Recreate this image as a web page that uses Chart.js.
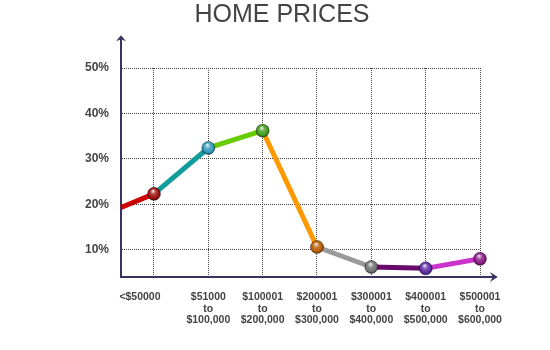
<!DOCTYPE html>
<html><head><meta charset="utf-8">
<script src="https://cdn.jsdelivr.net/npm/chart.js@4/dist/chart.umd.min.js"></script>
<style>html,body{margin:0;padding:0;background:#fff}#wrap{width:550px;height:350px}</style>
</head><body><div id="wrap"><canvas id="c" width="550" height="350"></canvas></div>
<script>
// ---- data ----
const chartTitle = 'HOME PRICES';
const categories = [
  ['<$50000'],
  ['$51000', 'to', '$100,000'],
  ['$100001', 'to', '$200,000'],
  ['$200001', 'to', '$300,000'],
  ['$300001', 'to', '$400,000'],
  ['$400001', 'to', '$500,000'],
  ['$500001', 'to', '$600,000']
];
const values = [22.3, 32.4, 36.2, 10.6, 6.2, 5.9, 8.0];   // percent
const startValue = 19.3;                                   // where the line enters at the y axis
const yTickValues = [10, 20, 30, 40, 50];

// ---- styling ----
const segmentColors = ['#cc0000', '#129c9c', '#66cc00', '#ff9900', '#9a9a9a', '#680a6a', '#cc33cc'];
const pointColors = ['#9a0c0c', '#2f97b8', '#3f9a1a', '#b85c00', '#707070', '#5a2aa0', '#8a1a82'];
const axisColor = '#3b335f';
const X_MIN = 0.393, X_MAX = 7, Y_MIN = 4, Y_MAX = 50, Y_AXIS_TOP = 57, X_AXIS_END = 7.31;
const firstLabelPos = 0.742;

const points = [{x: X_MIN, y: startValue}].concat(values.map((v, i) => ({x: i + 1, y: v})));

function shade(hex, f) {
  const n = parseInt(hex.slice(1), 16);
  let r = (n >> 16) & 255, g = (n >> 8) & 255, b = n & 255;
  if (f >= 0) { r += (255 - r) * f; g += (255 - g) * f; b += (255 - b) * f; }
  else { r *= 1 + f; g *= 1 + f; b *= 1 + f; }
  return 'rgb(' + Math.round(r) + ',' + Math.round(g) + ',' + Math.round(b) + ')';
}
function sphere(ctx) {
  const i = ctx.dataIndex;
  if (i === 0) return 'rgba(0,0,0,0)';
  const base = pointColors[i - 1];
  const chart = ctx.chart, xs = chart.scales.x, ys = chart.scales.y;
  if (!xs || !ys || !ctx.parsed) return base;
  const px = xs.getPixelForValue(ctx.parsed.x), py = ys.getPixelForValue(ctx.parsed.y);
  if (!isFinite(px) || !isFinite(py)) return base;
  const g = chart.ctx.createRadialGradient(px - 1, py - 3, 0.5, px, py, 7);
  g.addColorStop(0, shade(base, 0.8));
  g.addColorStop(0.35, shade(base, 0.2));
  g.addColorStop(0.75, base);
  g.addColorStop(1, shade(base, -0.55));
  return g;
}

const arrows = {
  id: 'arrows',
  afterDraw(chart) {
    const c = chart.ctx, a = chart.chartArea;
    const xs = chart.scales.x, ys = chart.scales.y;
    const yTop = ys.getPixelForValue(Y_AXIS_TOP);
    const xEnd = xs.getPixelForValue(X_AXIS_END);
    c.save();
    c.strokeStyle = axisColor; c.fillStyle = axisColor; c.lineWidth = 2;
    c.beginPath();
    c.moveTo(a.left, a.top + 1); c.lineTo(a.left, yTop + 2);
    c.moveTo(a.right - 1, a.bottom); c.lineTo(xEnd - 3, a.bottom);
    c.stroke();
    c.beginPath();
    c.moveTo(a.left, yTop - 1); c.lineTo(a.left - 5, yTop + 5); c.lineTo(a.left, yTop + 3); c.lineTo(a.left + 5, yTop + 5);
    c.closePath(); c.fill();
    c.beginPath();
    c.moveTo(xEnd + 1, a.bottom); c.lineTo(xEnd - 7, a.bottom - 5); c.lineTo(xEnd - 4, a.bottom); c.lineTo(xEnd - 7, a.bottom + 5);
    c.closePath(); c.fill();
    c.restore();
  }
};

new Chart(document.getElementById('c'), {
  type: 'line',
  data: {
    datasets: [{
      data: points,
      borderWidth: 5,
      tension: 0,
      clip: false,
      segment: { borderColor: ctx => segmentColors[ctx.p0DataIndex] },
      borderColor: segmentColors[0],
      pointRadius: ctx => ctx.dataIndex === 0 ? 0 : 6.5,
      pointBackgroundColor: sphere,
      pointBorderColor: 'rgba(0,0,0,0.35)',
      pointBorderWidth: 1
    }]
  },
  options: {
    responsive: false,
    animation: false,
    devicePixelRatio: 1,
    layout: { padding: { left: 84, right: 70, top: 0, bottom: 0 } },
    plugins: {
      legend: { display: false },
      tooltip: { enabled: false },
      title: {
        display: true, text: chartTitle, color: '#444',
        font: { family: 'Liberation Sans, Arial, sans-serif', size: 25, weight: 'normal', lineHeight: 1.2 },
        padding: { top: 0, bottom: 38 }
      }
    },
    scales: {
      x: {
        type: 'linear', position: 'bottom', min: X_MIN, max: X_MAX,
        afterBuildTicks: s => { s.ticks = categories.map((c, i) => ({ value: i + 1 })); },
        afterFit: s => { s.height = 2; },
        ticks: { display: false },
        grid: { color: '#444', lineWidth: 1, drawTicks: false },
        border: { display: true, color: axisColor, width: 2, dash: [1, 1] }
      },
      x2: {
        type: 'linear', position: 'bottom', min: X_MIN, max: X_MAX,
        afterBuildTicks: s => { s.ticks = categories.map((c, i) => ({ value: i === 0 ? firstLabelPos : i + 1 })); },
        afterFit: s => { s.height = 71; },
        ticks: {
          autoSkip: false, maxRotation: 0, minRotation: 0, padding: 12, color: '#444',
          font: { family: 'Liberation Sans, Arial, sans-serif', size: 10.5, weight: 'bold', lineHeight: 1.12 },
          callback: (v, i) => categories[i]
        },
        grid: { display: false, drawTicks: false },
        border: { display: false }
      },
      y: {
        type: 'linear', min: Y_MIN, max: Y_MAX,
        afterBuildTicks: s => { s.ticks = yTickValues.map(v => ({ value: v })); },
        afterFit: s => { s.width = 37; },
        ticks: {
          padding: 12, color: '#444',
          font: { family: 'Liberation Sans, Arial, sans-serif', size: 12, weight: 'bold' },
          callback: v => v + '%'
        },
        grid: { color: '#444', lineWidth: 1, drawTicks: false },
        border: { display: true, color: axisColor, width: 2, dash: [1, 1] }
      }
    }
  },
  plugins: [arrows]
});
</script>
</body></html>
